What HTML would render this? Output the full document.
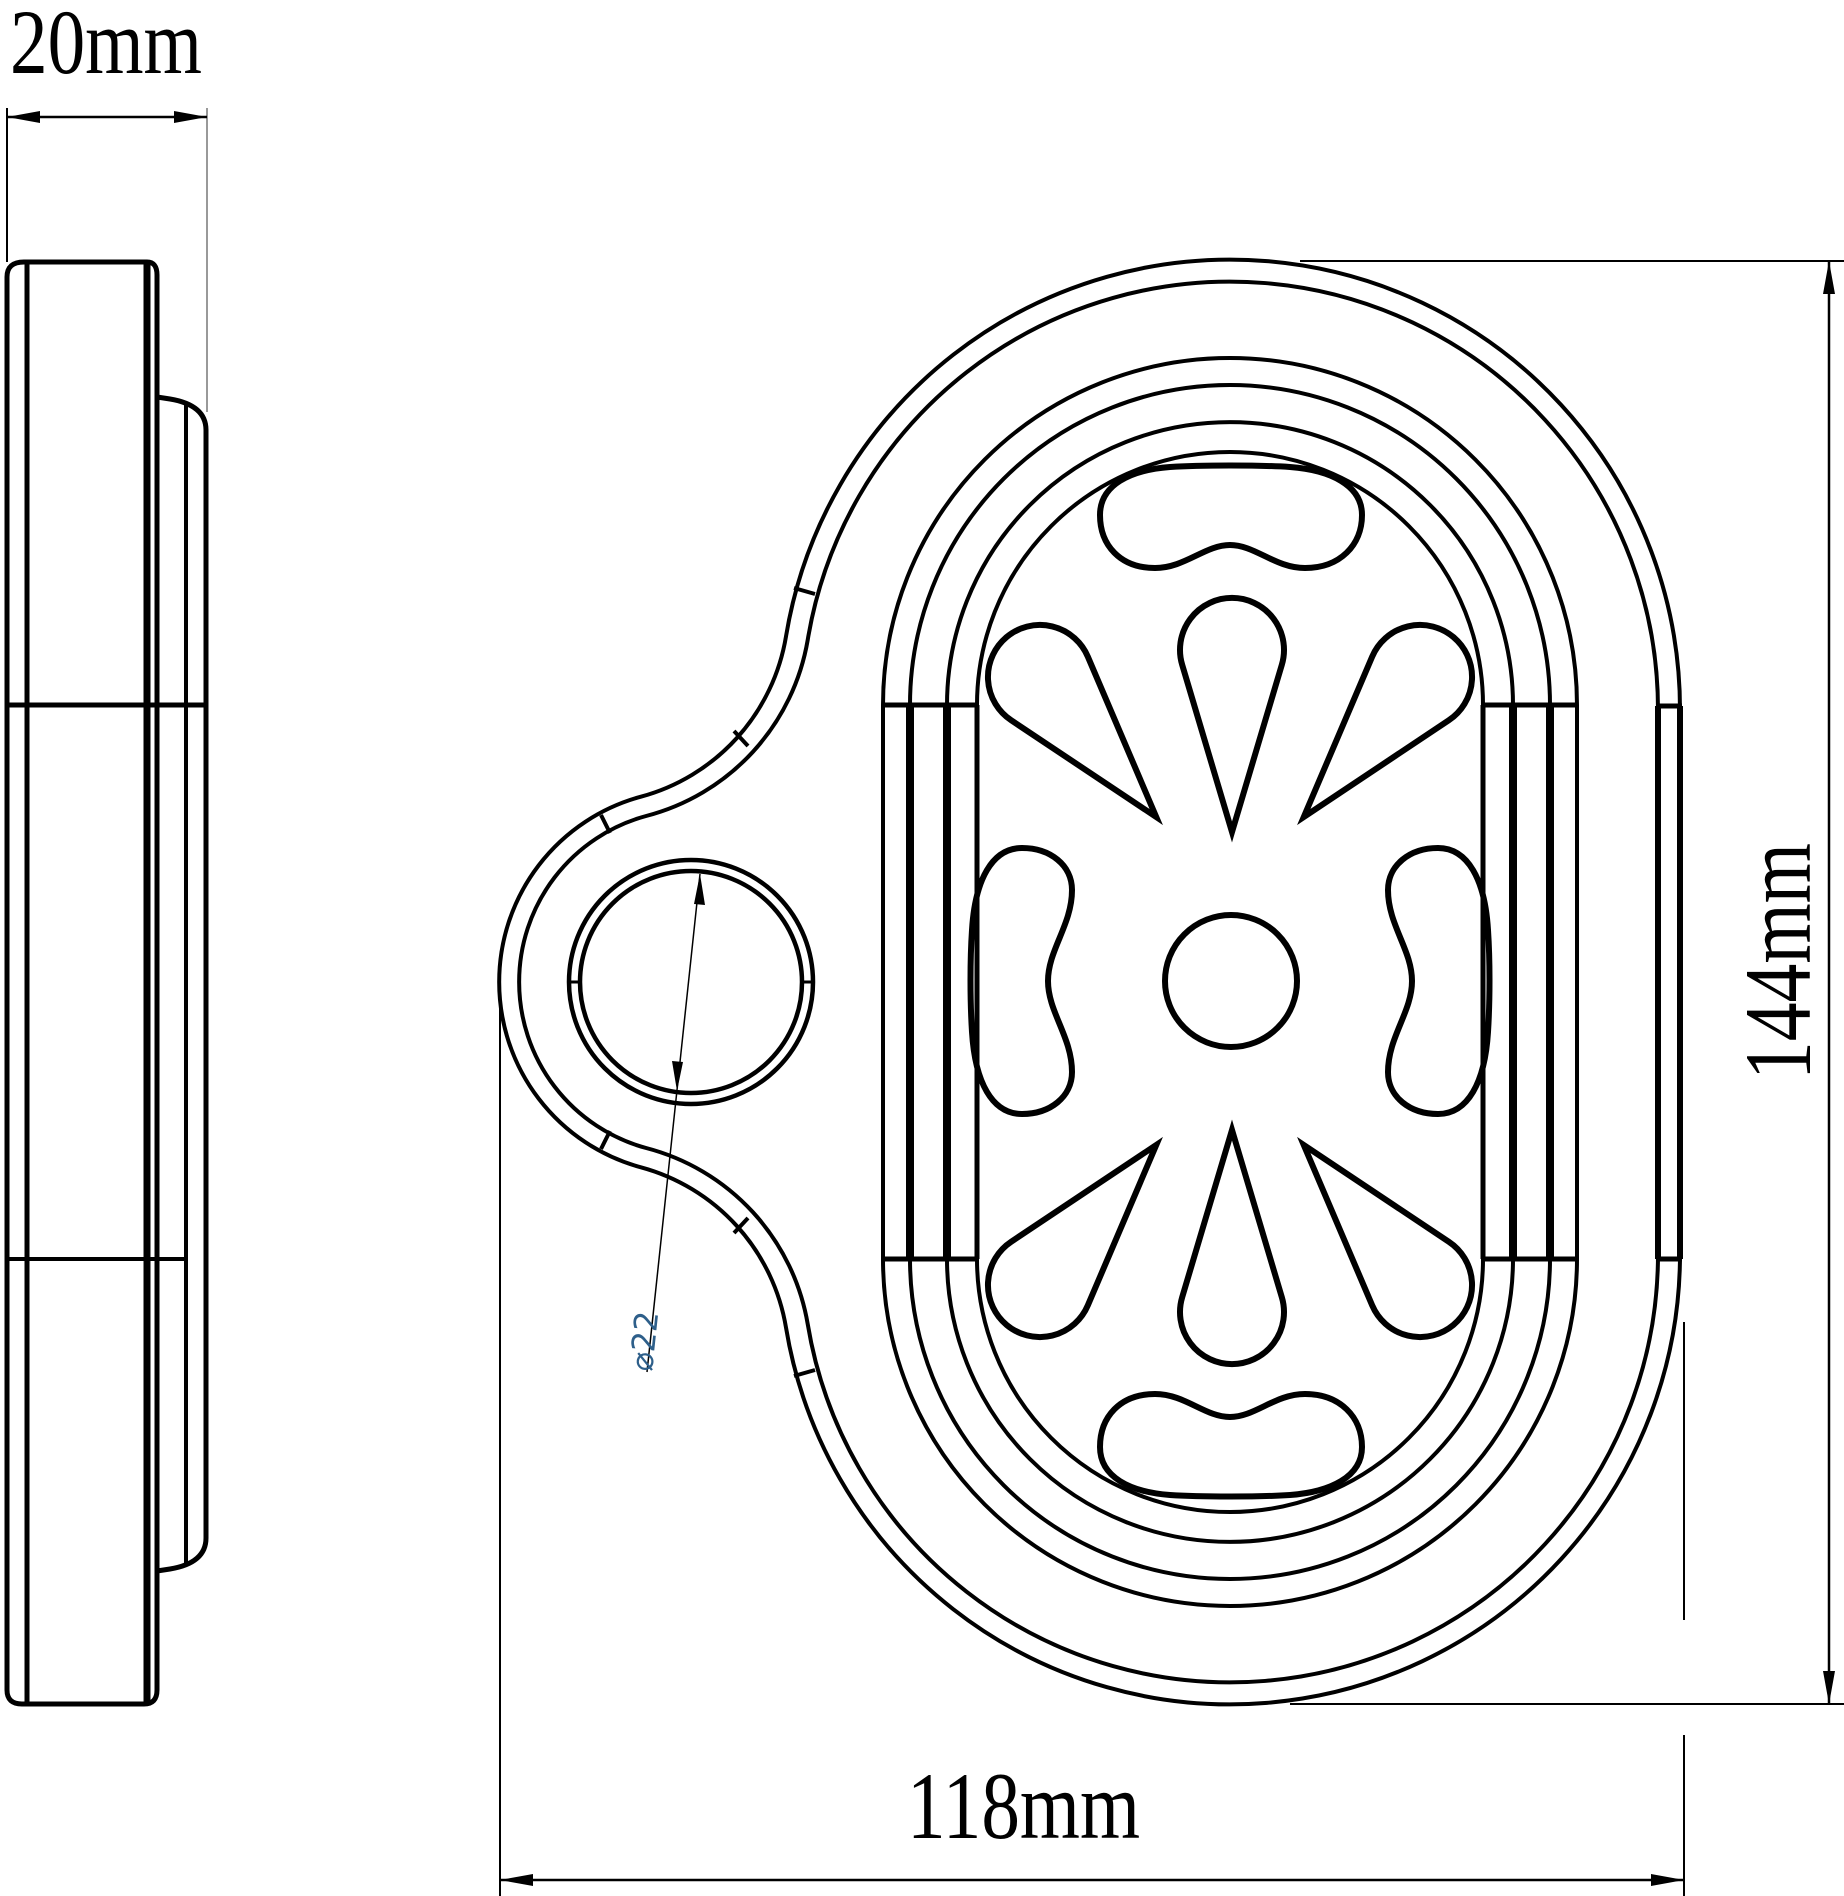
<!DOCTYPE html>
<html><head><meta charset="utf-8"><style>html,body{margin:0;padding:0;background:#fff}svg{display:block}</style></head>
<body>
<svg width="1844" height="1896" viewBox="0 0 1844 1896" xmlns="http://www.w3.org/2000/svg">
<defs>
<path id="td" d="M0,182 L-49.8,14.9 A52,52 0 1 1 49.8,14.9 Z"/>
</defs>
<g fill="none" stroke="#000" stroke-linecap="butt">
<!-- SIDE VIEW -->
<text x="10" y="73" font-family="Liberation Serif, serif" font-size="92" fill="#000" stroke="none" textLength="192" lengthAdjust="spacingAndGlyphs">20mm</text>
<line x1="7" y1="108" x2="7" y2="262" stroke-width="2"/>
<line x1="207" y1="108" x2="207" y2="412" stroke="#999" stroke-width="2"/>
<line x1="7" y1="117" x2="207" y2="117" stroke-width="2.5"/>
<path d="M7,117 L40,111 L40,123 Z M207,117 L174,111 L174,123 Z" fill="#000" stroke="none"/>
<path d="M7,1690 L7,277 Q7,262 24,262 L147,262 Q157,262 157,275 L157,1690 Q157,1704 144,1704 L22,1704 Q7,1704 7,1690 Z" stroke-width="5"/>
<line x1="27" y1="262" x2="27" y2="1704" stroke-width="5"/>
<line x1="147" y1="262" x2="147" y2="1704" stroke-width="7"/>
<path d="M157,397 L170,399 Q206,405 206,430 L206,1538 Q206,1563 170,1569 L157,1571" stroke-width="5"/>
<line x1="186" y1="405" x2="186" y2="1565" stroke-width="4"/>
<line x1="7" y1="705" x2="206" y2="705" stroke-width="5"/>
<line x1="7" y1="1259" x2="186" y2="1259" stroke-width="4"/>

<!-- MAIN OUTER CONTOUR -->
<path d="M1680,710 A450,450 0 0 0 786,636.4 A200,200 0 0 1 640.9,796.7 A192,192 0 0 0 640.9,1167.3 A200,200 0 0 1 786,1327.6 A450,450 0 0 0 1680,1254 Z" stroke-width="4"/>
<path d="M1658,710 A428,428 0 0 0 807.7,640 A220,220 0 0 1 646.1,816 A172,172 0 0 0 646.1,1148 A220,220 0 0 1 807.7,1324 A428,428 0 0 0 1658,1254 Z" stroke-width="4"/>
<!-- ticks -->
<g stroke-width="4">
<line x1="794" y1="588" x2="815" y2="594"/>
<line x1="794" y1="1376" x2="815" y2="1370"/>
<line x1="734" y1="731" x2="748" y2="746"/>
<line x1="734" y1="1233" x2="748" y2="1218"/>
<line x1="601" y1="815" x2="610" y2="833"/>
<line x1="601" y1="1149" x2="610" y2="1131"/>
</g>
<line x1="1658" y1="706" x2="1658" y2="1259" stroke-width="6"/>
<line x1="1680" y1="706" x2="1680" y2="1259" stroke-width="6"/>
<line x1="1656" y1="706" x2="1682" y2="706" stroke-width="5"/>
<line x1="1656" y1="1259" x2="1682" y2="1259" stroke-width="5"/>

<!-- hole -->
<circle cx="691" cy="982" r="122" stroke-width="4.5"/>
<circle cx="691" cy="982" r="111" stroke-width="4.5"/>
<line x1="569" y1="982" x2="580" y2="982" stroke-width="3"/>
<line x1="802" y1="982" x2="813" y2="982" stroke-width="3"/>

<!-- stadiums -->
<g stroke-width="4">
<path d="M883,1259 L883,705 A347,347 0 0 1 1577,705 L1577,1259 A347,347 0 0 1 883,1259 Z"/>
<path d="M910,1259 L910,705 A320,320 0 0 1 1550,705 L1550,1259 A320,320 0 0 1 910,1259 Z"/>
<path d="M947,1259 L947,705 A283,283 0 0 1 1513,705 L1513,1259 A283,283 0 0 1 947,1259 Z"/>
<path d="M977,1259 L977,705 A253,253 0 0 1 1483,705 L1483,1259 A253,253 0 0 1 977,1259 Z"/>
</g>
<g stroke-width="8">
<line x1="910" y1="705" x2="910" y2="1259"/>
<line x1="947" y1="705" x2="947" y2="1259"/>
<line x1="1513" y1="705" x2="1513" y2="1259"/>
<line x1="1550" y1="705" x2="1550" y2="1259"/>
</g>
<g stroke-width="5">
<line x1="883" y1="705" x2="977" y2="705"/>
<line x1="883" y1="1259" x2="977" y2="1259"/>
<line x1="1483" y1="705" x2="1577" y2="705"/>
<line x1="1483" y1="1259" x2="1577" y2="1259"/>
<line x1="977" y1="705" x2="977" y2="1259"/>
<line x1="1483" y1="705" x2="1483" y2="1259"/>
</g>

<!-- inner holes -->
<g stroke-width="6">
<circle cx="1231" cy="981" r="66"/>
<path d="M1230,545 C1205,545 1185,568 1155,568 C1120,568 1100,545 1100,515 C1100,485 1130,470 1170,467 C1200,465 1260,465 1290,467 C1330,470 1362,485 1362,515 C1362,545 1340,568 1305,568 C1275,568 1255,545 1230,545 Z"/>
<path d="M1230,545 C1205,545 1185,568 1155,568 C1120,568 1100,545 1100,515 C1100,485 1130,470 1170,467 C1200,465 1260,465 1290,467 C1330,470 1362,485 1362,515 C1362,545 1340,568 1305,568 C1275,568 1255,545 1230,545 Z" transform="translate(0,1962) scale(1,-1)"/>
<path d="M1048,981 C1048,950 1072,925 1072,890 C1072,865 1050,848 1022,848 C992,848 975,880 972,930 C970,960 970,1000 972,1032 C975,1082 992,1114 1022,1114 C1050,1114 1072,1097 1072,1072 C1072,1037 1048,1012 1048,981 Z"/>
<path d="M1048,981 C1048,950 1072,925 1072,890 C1072,865 1050,848 1022,848 C992,848 975,880 972,930 C970,960 970,1000 972,1032 C975,1082 992,1114 1022,1114 C1050,1114 1072,1097 1072,1072 C1072,1037 1048,1012 1048,981 Z" transform="translate(2460,0) scale(-1,1)"/>
<use href="#td" transform="translate(1232,650)"/>
<use href="#td" transform="translate(1040,677) rotate(-39.7)"/>
<use href="#td" transform="translate(1420,677) rotate(39.7)"/>
<use href="#td" transform="translate(1232,1312) scale(1,-1)"/>
<use href="#td" transform="translate(1040,1285) scale(1,-1) rotate(-39.7)"/>
<use href="#td" transform="translate(1420,1285) scale(1,-1) rotate(39.7)"/>
</g>

<!-- diameter dim -->
<line x1="700" y1="874" x2="647" y2="1372" stroke-width="1.5"/>
<path d="M700,874 L694,904 L705,905 Z M677,1091 L672,1061 L683,1062 Z" fill="#000" stroke="none"/>
<text transform="translate(652,1372) rotate(-84)" font-family="DejaVu Sans, sans-serif" font-size="32" fill="#2e5f8a" stroke="none">⌀22</text>

<!-- 144 dim -->
<line x1="1300" y1="261" x2="1844" y2="261" stroke-width="2"/>
<line x1="1290" y1="1704" x2="1844" y2="1704" stroke-width="2"/>
<line x1="1829" y1="261" x2="1829" y2="1704" stroke-width="2.5"/>
<path d="M1829,261 L1823,294 L1835,294 Z M1829,1704 L1823,1671 L1835,1671 Z" fill="#000" stroke="none"/>
<text transform="translate(1810,1080) rotate(-90)" font-family="Liberation Serif, serif" font-size="95" fill="#000" stroke="none" textLength="237" lengthAdjust="spacingAndGlyphs">144mm</text>

<!-- 118 dim -->
<line x1="500" y1="1000" x2="500" y2="1896" stroke-width="2"/>
<line x1="1684" y1="1322" x2="1684" y2="1620" stroke-width="2"/>
<line x1="1684" y1="1735" x2="1684" y2="1896" stroke-width="2"/>
<line x1="500" y1="1880" x2="1684" y2="1880" stroke-width="2.5"/>
<path d="M500,1880 L533,1874 L533,1886 Z M1684,1880 L1651,1874 L1651,1886 Z" fill="#000" stroke="none"/>
<text x="907" y="1838" font-family="Liberation Serif, serif" font-size="95" fill="#000" stroke="none" textLength="233" lengthAdjust="spacingAndGlyphs">118mm</text>
</g>
</svg>
</body></html>
